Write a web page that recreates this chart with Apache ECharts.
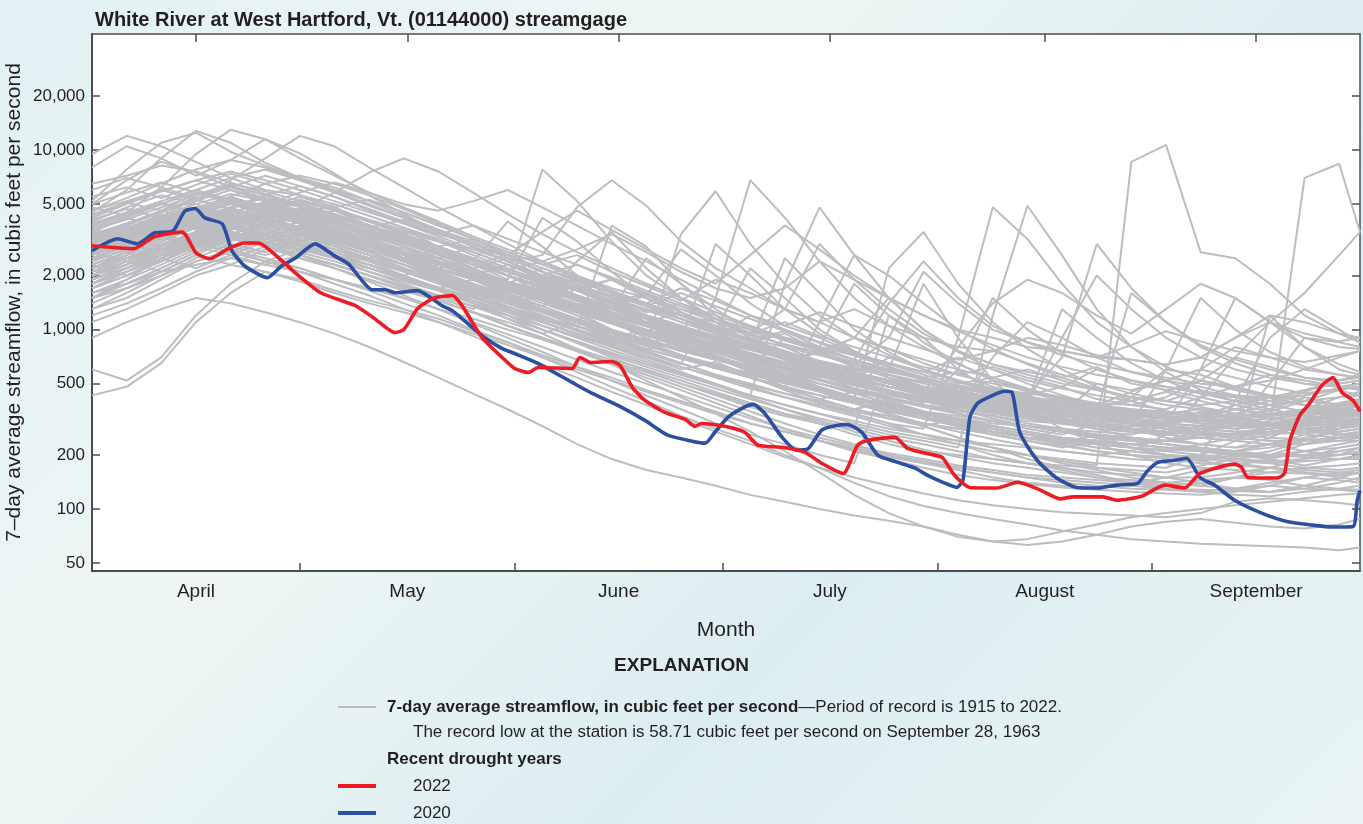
<!DOCTYPE html>
<html>
<head>
<meta charset="utf-8">
<script src="https://cdn.jsdelivr.net/npm/echarts@6/dist/echarts.min.js"></script>
<style>
html,body{margin:0;padding:0;width:1363px;height:824px;overflow:hidden;
background:linear-gradient(135deg,#e3f1f4 0%,#eef6f4 35%,#dcedf1 65%,#e9f4f3 100%);}
#chart{width:1363px;height:824px;}
</style>
</head>
<body>
<div id="chart"></div>
<script>
// ---- axis definitions ----
const monthNames = ['April','May','June','July','August','September'];
const monthMid = [15, 45.5, 76, 106.5, 137.5, 168];     // day-of-season centers
const monthStarts = [30, 61, 91, 122, 153];              // May 1 .. Sep 1
const yTickValues = [50, 100, 200, 500, 1000, 2000, 5000, 10000, 20000];

// ---- 2022 (red) ----
const redDays = [0,6,9,13,15,17,19.6,22,24,27.4,29.3,33,38,40.8,43.7,45,47,49.5,52,53.4,56.3,59.2,61,63,64.4,69.3,70.4,72,75,76.2,78,79.8,82.7,85.6,87,88,91.3,94.2,96.1,99.6,102.9,105.3,108.4,110.5,112,115.9,117.7,121,122.7,124.5,126.7,130.6,133.6,136.8,139.7,141.6,145.9,147.9,151.5,154.8,157.7,159.9,164.9,165.9,166.8,171.1,172.1,172.9,174.3,175.5,177.5,179.1,180.4,182,183];
const redValues = [2930,2820,3290,3500,2680,2480,2820,3040,3040,2420,2075,1605,1360,1151,962,1000,1309,1507,1546,1360,903,699,607,577,615,607,699,656,664,631,476,403,346,316,289,300,289,268,227,221,207,180,158,227,242,251,218,202,194,154,132,131,141,128,114,117,117,112,118,136,131,158,178,171,150,149,158,242,333,378,489,541,446,403,350];

// ---- 2020 (blue) ----
const blueDays = [0,3.7,6.6,9,11.7,13.4,14.9,16.3,18.8,20.2,22,25.3,27.4,29.3,32.2,35,37,39,40.4,42.3,43.7,47,50.5,52,56.3,59.2,61,64.4,69.3,72.2,75.9,79.8,83.1,86.6,88.5,89.9,91.8,93.8,95.4,97.1,99.6,101.7,103.3,105.3,107.6,109,111.1,113.4,116.3,118.8,120.6,122.8,124.8,125.7,126.7,127.8,130,131.7,132.8,133.8,134.9,136.8,139.2,142.1,145,147.9,150.9,152.2,153.8,156.3,158,159.9,162,164.9,168.8,172.6,176,179,182,182.6,183];
const blueValues = [2750,3205,3005,3455,3550,4580,4730,4190,3880,2750,2270,1945,2270,2500,3005,2575,2325,1870,1667,1667,1605,1648,1360,1275,926,784,736,647,508,441,378,312,258,239,233,268,325,364,383,341,251,213,216,275,293,296,268,200,182,169,154,141,132,145,325,388,430,453,446,275,227,180,149,132,131,136,139,161,182,187,192,150,136,112,95,85,81.5,79.4,80,112,127];

// ---- historical years (gray), sampled every 5 days from April 1 ----
const grayDays = [0,5,10,15,20,25,30,35,40,45,50,55,60,65,70,75,80,85,90,95,100,105,110,115,120,125,130,135,140,145,150,155,160,165,170,175,180,183];
const g01 = [5200,7800,11000,12500,9800,8200,7000,6200,5200,4300,3600,3100,2500,2100,1800,1500,1300,1100,950,820,760,650,600,560,480,430,420,380,350,330,320,340,360,320,300,290,300,310];
const g02 = [8000,10500,9000,7200,8800,11500,9600,7400,5600,4400,3500,2900,2400,2600,4800,6800,4900,3100,2200,1700,1300,1100,900,780,650,560,500,460,420,380,360,340,330,320,360,420,380,350];
const g03 = [900,1100,1300,1500,1400,1250,1100,950,800,660,540,440,360,290,230,190,165,150,135,120,110,100,92,86,80,72,66,63,66,72,80,85,88,84,80,78,82,88];
const g04 = [430,480,650,1100,1600,2100,1900,1650,1450,1300,1150,980,850,720,620,540,460,400,350,300,270,240,220,200,185,170,160,150,140,135,130,128,125,130,135,130,128,125];
const g05 = [2400,3100,4200,5600,6400,5200,4300,3600,3000,2500,2100,1800,1500,1250,1050,880,760,650,560,480,420,380,340,300,280,900,4800,3200,1800,1100,800,620,520,460,420,380,360,350];
const g06 = [3300,3800,4600,5800,5200,4300,3600,3000,2600,2300,1900,1600,1350,1150,980,840,720,620,540,470,420,370,330,290,260,240,220,200,185,175,8600,10700,2700,2500,1800,1200,950,850];
const g07 = [2000,2600,3400,4200,4800,4100,3500,3000,2600,2200,1850,1550,1300,1100,940,800,680,580,500,430,380,340,300,270,250,230,210,200,190,180,175,170,200,240,300,7000,8400,3500];
const g08 = [1800,2200,2700,3300,3800,3400,2900,2500,2100,1800,1550,1350,1150,1000,860,740,640,560,490,430,380,340,310,280,260,240,230,220,210,200,210,260,420,700,1100,1600,2600,3500];
const g09 = [3000,3600,4400,3900,3300,2900,2600,2300,2000,1750,1500,1300,1900,7800,5200,3100,2000,1500,1150,900,740,620,520,460,400,360,330,300,280,260,250,240,230,220,230,250,270,280];
const g10 = [2600,3200,3900,4700,4200,3700,3200,2800,2500,2200,1900,1650,1400,1200,1000,860,740,640,1500,6800,4200,2400,1500,1050,800,640,540,470,410,370,340,320,300,290,300,320,340,330];
const g11 = [1500,1900,2500,3200,3800,3400,3000,2600,2200,1900,1650,1400,1200,1000,850,720,620,540,470,410,360,320,290,260,240,220,1200,4900,2600,1300,800,580,460,400,360,330,320,310];
const g12 = [9500,12000,10500,8600,7000,6000,5600,5000,4300,3700,3100,2600,2200,1850,1550,1300,1100,950,820,700,600,530,470,420,380,340,310,290,270,250,240,230,220,210,200,195,190,190];
const g13 = [3800,4500,6200,9500,13000,11500,9000,7200,5800,4800,4000,3300,2800,2400,2000,1700,1500,1300,1150,1000,900,800,720,650,580,520,470,440,420,390,380,420,520,480,430,400,380,380];
const g14 = [2800,3300,4000,5200,6800,9000,12000,10500,8000,6200,4800,3800,3000,2400,1900,1600,1350,1150,980,850,740,660,580,520,470,430,400,370,350,330,320,310,320,360,400,380,360,350];
const g15 = [2200,2500,2800,3200,3600,4100,4700,5800,7500,9000,7600,5800,4400,3400,2700,2200,1800,1500,1250,1050,900,780,680,600,540,480,440,400,380,350,330,320,310,300,300,300,310,320];
const g16 = [1600,1800,2100,2300,2500,2300,2100,1900,1700,1500,1300,1150,1000,880,760,660,580,500,440,380,340,310,280,250,230,210,190,180,170,160,155,150,150,160,170,165,160,158];
const g17 = [1300,1500,1900,2400,2800,2500,2200,1900,1650,1400,1200,1000,850,700,580,480,400,330,280,240,200,170,140,118,104,95,88,82,76,72,68,66,64,63,62,61,59,61];
const g18 = [2000,2300,2800,3400,3900,3500,3100,2700,2300,1950,1650,1400,1150,950,780,640,520,420,340,270,210,160,120,95,80,70,66,68,75,82,90,95,100,105,110,115,120,122];
const g19 = [4200,5000,5900,6800,7600,6800,6000,5200,4500,3900,3400,3000,2600,2400,2800,3400,2700,2100,1700,1500,1700,2400,1900,1500,1200,1000,900,800,760,700,680,640,700,900,1200,1100,950,900];
const g20 = [3500,4200,5000,6000,7000,7800,6800,5800,4900,4200,3600,3000,2500,2100,1800,1500,1280,1100,950,820,720,640,580,520,480,450,420,400,380,360,420,600,560,480,420,380,360,350];
const g21 = [2900,3300,3800,4500,5500,6500,7200,6500,5600,4700,3900,3200,2600,2100,1700,1400,1150,960,800,680,580,500,440,390,350,320,290,270,250,240,230,220,215,210,220,240,250,255];
const g22 = [2500,2900,3500,4200,4800,5400,5000,4400,3800,3300,2800,2400,2000,1700,1450,1250,1100,950,830,730,640,560,500,450,410,380,350,330,310,300,290,300,600,1500,1100,800,640,580];
const g23 = [6500,7200,8200,7600,6600,5700,5000,4400,3800,3300,2800,2400,2000,1700,1450,1250,1050,900,780,680,600,520,460,410,370,340,310,290,270,255,245,240,260,300,290,270,260,255];
const g24 = [1700,2000,2400,2900,3300,3000,2600,2200,1850,1550,1300,1080,900,750,620,520,430,360,300,260,230,200,180,600,1800,900,520,360,280,230,200,180,170,165,160,158,155,160];
const g25 = [2300,2700,3300,4000,4600,4200,3700,3200,2700,2300,1950,1650,1400,1200,1000,3800,2900,1800,1200,900,700,560,470,400,350,310,280,260,240,220,210,200,195,190,200,230,260,270];
const g26 = [4600,5400,6500,7800,8800,8000,6900,5900,5000,4200,3500,2900,2400,2000,1650,1350,1100,920,780,660,560,480,420,370,330,300,280,260,245,235,230,240,250,260,280,320,380,400];
const g27 = [1200,1400,1700,2100,2500,2900,2600,2300,2000,1700,1450,1250,1050,900,760,640,540,460,390,330,280,240,210,190,170,155,145,138,132,128,125,122,120,125,135,150,160,165];
const g28 = [2700,3100,3700,4400,5100,4600,4000,3500,3000,2600,2200,1900,1600,1350,1150,980,840,720,620,540,480,1100,2600,2000,1400,1000,780,640,540,470,420,380,360,340,330,360,420,450];
const g29 = [3100,3500,4100,4700,5300,4800,4300,3800,3300,2900,2500,2100,1800,1500,1280,1100,950,820,700,600,520,450,390,340,300,270,245,225,210,200,190,185,200,400,900,1300,1000,850];
const g30 = [5000,6800,8600,7500,6200,5400,4800,4300,3800,3300,2900,2500,2100,1800,1550,1350,1150,1000,880,780,700,630,570,520,480,440,410,380,360,340,330,320,310,305,300,300,310,320];
const g31 = [2100,2400,2900,3500,4200,5000,5800,6600,5800,5000,4600,5200,6000,4800,3800,3000,2400,1900,1500,1200,1000,840,720,620,540,480,430,400,370,350,330,320,310,300,300,310,320,330];
const g32 = [1100,1300,1600,2000,2300,2100,1850,1600,1400,1250,1100,950,820,700,600,520,450,390,340,300,270,240,215,195,180,170,160,150,145,140,135,130,128,126,124,130,140,150];
const g33 = [3200,3700,4300,5000,5700,5200,4600,4000,3400,2900,2500,2150,1850,1600,1380,1200,1050,920,800,700,620,560,500,450,410,380,350,330,310,295,280,270,265,260,270,290,320,340];
const g34 = [2600,3000,3500,4000,4500,5000,4500,4000,3500,3100,2700,2300,2000,1700,1450,1250,1080,940,820,720,640,580,520,480,450,800,1400,1900,1600,1200,950,1300,1800,1500,1100,900,800,780];
const g35 = [1900,2200,2600,3100,3500,3200,2900,2600,2300,2000,1700,1450,1200,1000,840,700,590,500,430,370,330,300,280,1200,900,600,450,370,320,280,250,230,215,205,200,198,200,205];
const g36 = [4500,6000,9000,12800,11000,8500,7000,6000,5200,4500,3800,3200,2700,2300,1950,1650,1400,1200,1020,880,760,660,580,510,450,400,360,330,310,290,280,270,265,260,270,280,290,300];
const g37 = [2400,2800,3300,3900,4400,4000,3600,3200,2800,2400,2100,1800,1550,1300,1100,950,820,3400,5900,3000,1800,1200,900,720,600,510,450,400,360,330,300,280,270,260,250,245,240,240];
const g38 = [2000,2400,2900,3500,4100,4700,4200,3700,3200,2800,2400,2000,1700,1450,1250,1080,930,810,710,630,560,500,450,410,380,360,700,1100,900,700,580,520,600,800,700,600,560,540];
const g39 = [1500,1700,2000,2400,2700,2400,2100,1800,1550,1300,1100,920,770,640,540,450,380,320,270,230,195,170,150,135,122,112,105,100,96,94,92,90,95,110,115,112,108,105];
const g40 = [3600,4100,4800,5600,6500,5900,5200,4600,4000,3500,3100,2800,2600,3500,4600,3600,2800,2200,1800,2600,3800,2800,2000,1500,1200,980,820,700,620,560,520,480,450,430,420,430,460,480];
const g41 = [2200,2600,3100,3700,4300,4900,4400,3900,3400,2900,2500,2100,1800,1500,1280,1100,940,800,690,600,520,460,410,2200,3500,1800,1100,780,600,480,400,350,320,300,290,300,310,320];
const g42 = [1800,2100,2500,3000,3500,3100,2800,2500,2200,1900,1650,1400,1200,1000,860,740,640,560,490,430,1800,4800,2600,1500,1000,750,600,500,430,380,350,330,310,300,300,310,330,340];
const g43 = [600,520,700,1200,1800,2400,2200,1900,1700,1500,1300,1100,940,800,680,580,500,430,370,320,280,250,225,205,190,175,165,155,150,145,140,140,145,150,160,170,175,180];
const g44 = [2800,3400,4100,3600,4400,5200,4600,3900,3300,3600,2900,2300,1900,4200,3100,2100,1500,1200,1100,950,820,740,900,1500,1000,760,640,580,540,620,500,460,520,700,620,540,520,560];
const g45 = [1900,2300,2900,3500,3100,3800,4500,4000,3300,2700,2200,2500,2000,1600,1300,1450,1150,900,760,820,2500,1600,1000,750,600,520,460,430,480,410,380,360,420,380,350,400,460,430];
const g46 = [3400,3100,3800,4600,5400,4900,4200,4600,3800,3100,2600,2200,2500,2100,1700,1400,1600,1250,1000,850,950,760,640,900,2100,1400,1000,850,760,700,820,980,860,760,700,660,720,760];
const g47 = [2200,2700,2400,3000,3700,4300,3700,3200,2800,2400,2700,2200,1800,1500,2400,3500,2200,1500,1100,850,680,560,470,400,350,300,270,250,230,260,220,200,185,200,190,175,190,200];
const g48 = [4000,4800,5600,5000,4300,4800,5500,4800,4000,3400,2900,3200,2600,2100,1700,1900,1500,1250,1050,880,980,800,680,600,540,580,480,430,700,3000,1700,1100,820,680,600,540,500,520];
const g49 = [1600,1900,2300,2800,3400,3000,2600,3100,2700,2300,1950,1650,1400,1550,1250,1000,840,920,760,640,540,470,400,340,290,250,220,200,180,165,150,140,135,130,140,150,145,140];
const g50 = [3000,3500,3200,3900,4700,5600,6300,5500,4600,3900,3300,2800,2400,2000,2300,1900,1550,2800,2000,1400,1050,900,740,640,560,500,540,460,410,380,450,520,480,430,400,460,520,560];
const g51 = [2500,2900,3400,4000,3500,3000,3500,4100,3500,2900,2400,2000,2300,1900,1550,1300,1100,1250,1000,2200,1500,1000,760,620,520,460,420,400,1300,900,650,520,440,400,380,400,420,430];
const g52 = [1300,1600,2000,2500,3000,2700,3200,2800,2400,2000,1700,1900,1550,1300,1100,920,780,860,700,580,480,410,360,400,330,290,260,240,280,250,220,200,190,210,230,210,200,220];
const g53 = [5500,6200,5400,6400,7400,6500,5600,4800,5300,4500,3800,3200,2700,2300,2600,2100,1750,1450,1900,1600,1300,1100,1300,1050,900,800,760,900,820,720,680,640,700,900,1100,950,860,900];
const g54 = [2000,2400,2100,2600,3200,3800,4400,3900,3400,2900,2500,2100,1800,1550,1750,1450,1200,1000,850,720,620,800,1800,1200,850,650,520,450,400,370,400,450,400,360,330,350,380,390];
const g55 = [3700,4300,5000,4500,3900,4400,3900,3400,2900,2500,2800,2400,4000,2900,2000,1500,1400,1150,950,800,680,740,620,540,480,430,390,430,380,340,310,290,270,260,280,310,350,330];
const g56 = [1700,2000,2500,3000,3600,4200,3700,3200,2800,2400,2000,1700,1450,1650,1350,1100,900,760,830,680,560,470,400,340,290,250,220,190,170,155,140,130,125,120,118,125,130,128];
const g57 = [2600,3100,3700,3300,2900,3400,4000,3500,3000,2600,2200,1900,1600,1800,1500,1250,1050,880,740,820,680,580,500,440,390,600,1500,1000,740,600,520,480,440,420,400,430,470,480];
const g58 = [4300,5100,4600,5400,6300,5600,4900,4300,3700,4100,3500,2900,2400,2000,1700,1450,1250,1400,1150,960,1300,3000,1900,1300,950,760,640,560,500,460,420,400,380,400,430,400,380,390];
const g59 = [2300,2000,2400,2900,3500,3100,2700,3200,2800,2400,2000,1700,1450,1250,1050,900,1000,820,690,590,510,460,400,340,290,250,220,200,185,170,160,150,165,180,170,160,155,160];
const g60 = [3200,3800,4500,5300,4700,4100,3600,3100,3500,3000,2600,2200,1850,1550,1300,1450,1200,1000,850,720,620,540,590,500,440,390,350,320,300,330,300,600,1500,1000,750,620,560,540];
const g61 = [1400,1700,2100,2600,2300,2800,3400,3000,2600,2200,1850,1550,1300,1100,950,820,700,600,660,550,460,390,340,300,260,230,200,180,165,150,140,135,140,150,145,135,130,135];
const g62 = [6000,7000,6200,5400,6200,7200,6300,5500,4700,4000,3400,3800,3200,2700,2300,1950,1650,1400,1200,1030,890,770,680,1400,2400,1500,1050,850,720,640,580,540,500,480,520,600,700,760];
const g63 = [2900,3300,2900,3400,4000,4600,5200,4600,4000,3400,2900,2500,2100,1800,1550,1300,2500,1800,1300,1000,800,660,550,480,430,390,350,380,340,300,280,260,290,330,300,280,270,280];
const g64 = [2100,2500,3000,2700,3200,3800,3300,2900,2500,2100,1800,1550,1750,1450,1200,1000,850,720,620,540,470,410,450,380,330,290,260,240,220,240,220,200,185,175,190,210,230,240];
const g65 = [3600,3300,3900,4500,5200,4600,5300,4600,4000,3400,2900,2500,2150,2400,2000,1650,1400,1200,1000,860,740,640,560,500,450,410,440,390,900,2000,1300,900,700,600,540,500,480,500];
const g66 = [2400,2800,3300,3900,4500,5100,4500,3900,3400,2900,2500,2100,1800,1550,1350,1150,1000,870,3000,2000,1300,950,750,620,520,450,400,360,330,310,300,280,260,250,240,230,250,270];
const g67 = [4800,4300,5000,5800,5100,4500,5100,4400,3800,3300,2800,2400,2000,1750,1500,1300,1150,1000,880,780,690,610,540,480,430,390,360,340,320,300,290,280,270,300,500,900,850,800];
const g68 = [1800,2200,2700,3300,2900,2600,3000,2600,2300,2000,2300,1950,1650,1400,1200,1000,850,720,620,540,470,410,360,320,290,320,280,250,230,210,200,190,180,175,170,190,220,230];
const g69 = [3300,3900,4600,4100,3600,4100,4700,4100,3600,3100,2700,2300,2000,1700,1900,1600,1350,1150,980,850,740,650,570,500,450,400,370,340,320,350,1600,1100,800,650,560,500,480,470];
const g70 = [2700,2400,2800,3300,3900,4500,4000,3500,3100,2700,2300,2000,1700,1450,1250,1080,930,800,700,610,530,470,420,380,410,360,320,290,270,250,240,230,220,210,230,260,290,300];
const g71 = [3900,4500,5200,6000,5300,4700,4100,3600,3100,2700,2300,2000,1800,2200,1900,1600,1400,1700,1450,1200,1050,1250,1050,900,780,680,760,650,560,500,460,520,600,540,480,440,470,500];
const g72 = [2500,2900,3400,4000,4700,4200,3700,3300,2900,2600,2300,2050,1850,1650,1500,1350,1550,1300,1100,950,1100,920,800,700,620,560,620,540,480,600,520,460,420,480,560,520,480,460];
const g73 = [3100,3600,4200,3800,3400,3900,4500,4000,3500,3100,2700,2400,2100,1850,1650,1900,1600,1350,1150,1000,870,760,900,780,680,600,540,600,520,460,420,400,460,420,380,450,520,540];
const g74 = [1500,1800,2200,2700,3300,2900,2500,2200,1900,1650,1450,1250,1100,950,1100,900,750,650,560,500,440,390,350,320,300,280,310,280,260,300,280,250,230,220,250,300,340,350];
const g75 = [2000,2300,2700,3100,3600,4100,3700,3300,2900,2500,2200,1900,1650,1450,1250,1100,960,840,740,650,580,520,470,430,400,370,350,330,310,290,280,270,260,250,1200,800,600,560];
const g76 = [1700,2000,2400,2900,2600,2300,2600,2300,2000,1700,1450,1250,1050,890,760,650,560,480,410,350,300,260,230,200,180,165,150,140,135,130,140,150,140,130,125,135,150,160];
const g77 = [2600,3000,2700,3200,3800,3400,3000,2600,2300,2000,1700,1450,1250,1050,900,770,660,570,490,420,360,310,270,240,215,195,180,170,160,150,145,140,135,150,170,160,150,145];
const g78 = [2200,2600,3100,3700,3300,2900,2500,2200,1900,1650,1450,1250,1050,900,780,680,600,520,450,390,340,300,260,230,210,200,190,180,175,170,165,160,175,190,180,170,165,170];
const g79 = [3500,2900,3300,4200,3700,3200,3700,4400,3800,3200,2700,2300,2600,2200,1850,1600,1350,1600,1350,1150,980,850,740,650,580,700,600,520,470,430,400,450,520,470,430,400,380,400];
const g80 = [2800,3200,3700,3200,2800,2400,2800,3300,2900,2500,2100,1800,1550,1350,1700,1400,1200,1050,900,780,680,600,540,480,430,390,360,330,310,290,270,300,350,320,290,270,300,320];
const g81 = [4400,5100,5900,6800,6000,5200,4500,3900,3400,2900,2500,2900,2400,2000,1650,1400,1200,1000,860,740,640,560,640,540,460,400,360,330,300,280,270,260,250,240,260,300,350,380];
const g82 = [2300,2700,3200,3800,4400,3900,3400,2900,2500,2900,2500,2100,1800,1550,1300,1100,950,820,700,600,520,460,410,370,340,320,300,290,270,260,250,240,280,320,300,280,260,260];
const g83 = [3000,3500,4100,4800,4200,3700,4300,5000,4300,3700,3200,2700,2300,1950,1650,1400,1200,1050,900,1200,1000,850,720,620,540,480,430,390,360,340,320,300,290,280,300,330,360,380];
const g84 = [1900,2200,2600,3100,3700,3300,2900,2500,2200,1900,1650,1450,1250,1100,950,820,1000,850,720,620,540,470,410,360,320,290,270,250,240,230,220,210,200,195,210,240,280,300];
const g85 = [5000,5800,6600,5800,5100,4500,4000,3500,3100,2700,2400,2100,1850,1650,1450,1300,1150,1000,900,800,700,620,560,500,450,410,380,350,330,310,300,290,280,290,310,340,370,400];
const g86 = [2600,3000,3500,4100,4700,4200,3700,3300,2900,2500,2200,1950,1700,1500,1300,1150,1000,900,800,720,650,590,530,480,440,410,380,360,340,320,310,300,330,360,340,330,350,360];
const g87 = [3100,3700,3300,3900,4600,4100,3600,3100,2700,2300,2000,1700,1500,1300,1150,1000,880,780,690,610,900,760,640,560,500,450,520,460,410,380,350,330,310,340,380,350,330,340];
const g88 = [2400,2800,3300,2900,3400,4000,3500,3000,2600,2200,1900,1650,1450,1250,1100,950,830,720,630,560,500,450,410,380,350,330,310,290,280,270,260,290,330,380,420,460,500,520];
const g89 = [1700,2100,2600,3100,2700,3200,3800,3300,2800,2400,2050,1750,1500,1300,1100,950,820,700,610,540,480,430,390,360,330,300,280,260,240,230,220,210,230,250,270,260,250,250];
const g90 = [4100,4700,4200,4800,5500,4800,4200,3700,3200,2800,2400,2100,1800,1600,1400,1250,1100,980,870,780,700,620,560,510,470,430,400,380,360,340,330,320,310,300,290,280,290,300];
const g91 = [2000,2300,2700,3200,3800,4400,3900,3400,3000,2600,2300,2000,1750,1550,1350,1200,1050,930,820,730,650,590,530,700,600,520,460,420,390,360,340,320,300,290,280,290,300,310];
const g92 = [3300,3000,3500,4100,4800,5600,4900,4300,3700,3200,2800,2400,2100,1800,1550,1350,1200,1050,920,810,720,640,570,510,460,420,390,360,340,500,440,400,370,340,320,310,300,300];
const g93 = [2700,3100,3600,4200,3700,3300,2900,2500,2200,1950,1700,1500,1300,1150,1000,880,780,690,610,540,480,430,390,350,320,290,270,250,240,230,220,215,210,205,200,200,210,220];
const g94 = [3800,4400,5100,4500,4000,4600,5300,4700,4100,3600,3100,2700,2300,2000,1750,1550,1350,1200,1050,930,830,740,660,590,530,480,440,410,380,360,340,330,320,310,320,340,370,390];
const g95 = [2200,2500,2900,3400,3000,2700,3100,3600,3100,2700,2350,2050,1800,1550,1350,1200,1050,920,810,720,640,570,510,460,420,380,350,330,310,290,280,270,260,250,240,240,250,260];
const g96 = [1500,1800,2200,2700,3200,2900,2600,2300,2000,1750,1550,1350,1200,1050,920,800,700,620,550,490,440,400,360,330,300,280,260,240,225,210,200,195,190,185,180,185,190,195];
const g97 = [2900,3400,4000,4700,4100,3600,3100,2700,2400,2100,1850,1600,1400,1250,1100,970,860,760,680,610,550,500,450,410,380,350,330,310,300,290,280,270,260,260,270,280,290,300];
const g98 = [3600,4200,3700,3300,3900,4500,4000,3500,3100,2700,2400,2100,1850,1650,1450,1300,1150,1020,910,820,740,670,610,560,510,470,440,410,390,370,350,340,330,320,330,350,380,400];
const g99 = [2100,2500,3000,3500,4100,3600,3200,2800,2450,2150,1900,1650,1450,1270,1120,990,870,770,680,600,530,470,420,380,340,310,290,270,250,240,230,220,210,200,195,200,210,220];
const g100 = [4600,5200,6000,5300,4700,4200,4700,4200,3700,3200,2800,2450,2150,1900,1650,1450,1300,1150,1000,890,800,720,640,580,530,490,450,420,400,380,360,350,340,330,340,360,390,410];
const g101 = [2500,2900,3400,3000,2700,3200,3700,3200,2800,2500,2200,1900,1650,1450,1280,1120,980,870,770,680,610,550,490,440,400,370,340,320,300,280,270,260,250,240,230,230,240,250];
const g102 = [1800,2100,2500,2200,2600,3100,2700,2400,2100,1850,1650,1450,1280,1130,1000,880,780,690,610,540,480,430,390,350,320,290,270,250,235,220,210,200,195,190,185,190,200,210];
const g103 = [3400,3900,4500,5200,6000,5300,4600,4000,3500,3050,2650,2300,2000,1750,1530,1340,1180,1040,920,820,730,650,580,520,470,430,400,370,350,330,310,300,290,280,290,310,340,360];
const g104 = [2300,2700,3200,3800,3400,3000,3500,3100,2750,2450,2150,1900,1700,1500,1320,1170,1040,930,830,740,660,590,530,480,440,400,370,350,330,310,300,290,280,270,260,270,280,290];
const g105 = [2800,3200,3700,4300,5000,4400,3900,3400,3000,2650,2350,2050,1800,1580,1390,1230,1090,970,860,770,690,620,560,510,460,420,390,360,340,320,300,290,280,270,280,300,330,350];
const g106 = [1900,2200,2600,3000,3500,3100,2800,2500,2200,1950,1720,1520,1340,1180,1040,920,810,720,640,570,510,460,410,370,340,310,290,270,250,240,230,220,210,200,200,210,220,230];
const grayRuns = [g01,g02,g03,g04,g05,g06,g07,g08,g09,g10,g11,g12,g13,g14,g15,g16,g17,g18,g19,g20,
  g21,g22,g23,g24,g25,g26,g27,g28,g29,g30,g31,g32,g33,g34,g35,g36,g37,g38,g39,g40,
  g41,g42,g43,g44,g45,g46,g47,g48,g49,g50,g51,g52,g53,g54,g55,g56,g57,g58,g59,g60,
  g61,g62,g63,g64,g65,g66,g67,g68,g69,g70,g71,g72,g73,g74,g75,g76,g77,g78,g79,g80,
  g81,g82,g83,g84,g85,g86,g87,g88,g89,g90,g91,g92,g93,g94,g95,g96,g97,g98,g99,g100,
  g101,g102,g103,g104,g105,g106];

// ---- build ----
const L = v => Math.log10(v);
const yTickLogs = yTickValues.map(L);
const fontReg = "'Liberation Sans', Arial, sans-serif";
const ink = '#231f20';
const axisInk = '#4d4d4f';

const series = [];
grayRuns.forEach((run, k) => {
  series.push({
    type: 'line', name: 'record' + k, silent: true, symbol: 'none',
    lineStyle: { color: '#bcbdc0', width: 2 }, z: 2,
    data: grayDays.map((d, i) => [d, L(run[i])])
  });
});
series.push({
  type: 'line', name: '2022', symbol: 'none', smooth: 0.2, z: 4,
  lineStyle: { color: '#ed1c24', width: 3.6 },
  data: redDays.map((d, i) => [d, L(redValues[i])])
});
series.push({
  type: 'line', name: '2020', symbol: 'none', smooth: 0.2, z: 3,
  lineStyle: { color: '#2d4fa2', width: 3.6 },
  data: blueDays.map((d, i) => [d, L(blueValues[i])])
});

const monthLabel = v => {
  for (let i = 0; i < monthMid.length; i++) if (Math.abs(monthMid[i] - v) < 0.01) return monthNames[i];
  return '';
};

const chart = echarts.init(document.getElementById('chart'), null, { renderer: 'canvas' });
chart.setOption({
  animation: false,
  backgroundColor: 'transparent',
  title: {
    text: 'White River at West Hartford, Vt. (01144000) streamgage',
    left: 90, top: 5,
    textStyle: { fontFamily: fontReg, fontWeight: 'bold', fontSize: 20, color: ink }
  },
  grid: { left: 92, right: 3, top: 34, bottom: 253, show: true, backgroundColor: '#ffffff', borderWidth: 0,
          containLabel: false, outerBoundsMode: 'none' },
  xAxis: [{
    type: 'value', min: 0, max: 183, position: 'bottom',
    axisLine: { show: true, onZero: false, lineStyle: { color: axisInk, width: 2 } },
    axisTick: { show: true, inside: true, length: 8, customValues: monthStarts, lineStyle: { color: axisInk, width: 1.5 } },
    axisLabel: { customValues: monthMid, formatter: monthLabel, fontFamily: fontReg, fontSize: 19, color: ink, margin: 11 },
    splitLine: { show: false },
    name: 'Month', nameLocation: 'middle', nameGap: 49, nameMoveOverlap: false,
    nameTextStyle: { fontFamily: fontReg, fontSize: 21, color: ink }
  }, {
    type: 'value', min: 0, max: 183, position: 'top',
    axisLine: { show: true, onZero: false, lineStyle: { color: axisInk, width: 1.5 } },
    axisTick: { show: true, inside: true, length: 8, customValues: monthMid, lineStyle: { color: axisInk, width: 1.5 } },
    axisLabel: { show: false }, splitLine: { show: false }
  }],
  yAxis: [{
    type: 'value', min: 1.655, max: 4.647, position: 'left',
    axisLine: { show: true, onZero: false, lineStyle: { color: axisInk, width: 2 } },
    axisTick: { show: true, inside: true, length: 8, customValues: yTickLogs, lineStyle: { color: axisInk, width: 1.5 } },
    axisLabel: {
      customValues: yTickLogs, fontFamily: fontReg, fontSize: 17, color: ink, margin: 7,
      formatter: v => Math.round(Math.pow(10, v)).toLocaleString('en-US')
    },
    splitLine: { show: false },
    name: '7\u2013day average streamflow, in cubic feet per second',
    nameLocation: 'middle', nameGap: 67, nameMoveOverlap: false,
    nameTextStyle: { fontFamily: fontReg, fontSize: 21, color: ink }
  }, {
    type: 'value', min: 1.655, max: 4.647, position: 'right',
    axisLine: { show: true, onZero: false, lineStyle: { color: axisInk, width: 1.5 } },
    axisTick: { show: true, inside: true, length: 8, customValues: yTickLogs, lineStyle: { color: axisInk, width: 1.5 } },
    axisLabel: { show: false }, splitLine: { show: false }
  }],
  series: series,
  graphic: [
    { type: 'text', left: 'center', top: 656, style: { text: 'EXPLANATION', x: 0, fontFamily: fontReg, fontWeight: 'bold', fontSize: 19, fill: ink } },
    { type: 'line', shape: { x1: 338, y1: 707, x2: 376, y2: 707 }, style: { stroke: '#bcbdc0', lineWidth: 2 } },
    { type: 'text', x: 387, y: 707, style: {
        text: '{b|7-day average streamflow, in cubic feet per second}{r|\u2014Period of record is 1915 to 2022.}',
        verticalAlign: 'middle',
        rich: {
          b: { fontFamily: fontReg, fontWeight: 'bold', fontSize: 17, fill: ink },
          r: { fontFamily: fontReg, fontSize: 17, fill: ink }
        } } },
    { type: 'text', x: 413, y: 732, style: { text: 'The record low at the station is 58.71 cubic feet per second on September 28, 1963', verticalAlign: 'middle', fontFamily: fontReg, fontSize: 17, fill: ink } },
    { type: 'text', x: 387, y: 759, style: { text: 'Recent drought years', verticalAlign: 'middle', fontFamily: fontReg, fontWeight: 'bold', fontSize: 17, fill: ink } },
    { type: 'line', shape: { x1: 338, y1: 786, x2: 376, y2: 786 }, style: { stroke: '#ed1c24', lineWidth: 4 } },
    { type: 'text', x: 413, y: 786, style: { text: '2022', verticalAlign: 'middle', fontFamily: fontReg, fontSize: 17, fill: ink } },
    { type: 'line', shape: { x1: 338, y1: 813, x2: 376, y2: 813 }, style: { stroke: '#2d4fa2', lineWidth: 4 } },
    { type: 'text', x: 413, y: 813, style: { text: '2020', verticalAlign: 'middle', fontFamily: fontReg, fontSize: 17, fill: ink } }
  ]
});
</script>
</body>
</html>
